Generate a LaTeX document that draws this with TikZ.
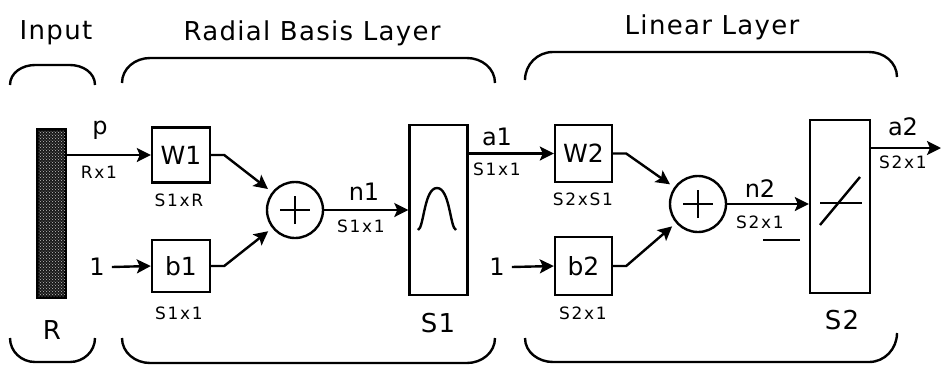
\documentclass[tikz,border=0pt]{standalone}
\usepackage{fontspec}
\setmainfont{DejaVu Sans}
\newfontfamily\titlefont[LetterSpace=5]{DejaVu Sans}
\newfontfamily\smallfont[LetterSpace=10]{DejaVu Sans}
\usetikzlibrary{arrows.meta,patterns}
\begin{document}
\begin{tikzpicture}[x=1pt,y=-1pt,line width=2.4pt,
  box/.style={draw,minimum width=58pt,minimum height=55pt,inner sep=0pt,font=\fontsize{25}{27}\selectfont},
  tall/.style={draw,minimum width=58pt,minimum height=170pt,inner sep=0pt},
  sumc/.style={draw,circle,minimum size=56pt,inner sep=0pt},
  ttl/.style={font=\titlefont\fontsize{26}{28}\selectfont,inner sep=0pt},
  big/.style={font=\fontsize{24}{26}\selectfont,inner sep=0pt},
  dim/.style={font=\smallfont\fontsize{17}{18}\selectfont,inner sep=0pt},
  arr/.style={-{Stealth[length=14pt,width=14pt,inset=3pt]}},
  brk/.style={line width=2.4pt}
]
\useasboundingbox (0,0) rectangle (942,365);

% titles
\node[ttl] (tIn) at (56,33) {Input};
\node[ttl] (tRB) at (312,33) {Radial Basis Layer};
\node[ttl] (tLin) at (712,27) {Linear Layer};

% brackets
\draw[brk] (10,85) to[out=90,in=180] (35,65) -- (70,65) to[out=0,in=90] (95,85);
\draw[brk] (10,338) to[out=-90,in=180] (35,362) -- (70,362) to[out=0,in=-90] (95,338);
\draw[brk] (122,83) to[out=90,in=180] (150,58) -- (467,58) to[out=0,in=90] (495,83);
\draw[brk] (122,338) to[out=-90,in=180] (150,363) -- (467,363) to[out=0,in=-90] (495,338);
\draw[brk] (525,80) to[out=90,in=180] (553,52) -- (869,52) to[out=0,in=90] (897,77);
\draw[brk] (525,338) to[out=-90,in=180] (553,362) -- (869,362) to[out=0,in=-90] (897,333);

% input bar
\node[draw,fill=black!90,minimum width=27pt,minimum height=167pt,inner sep=0pt] (inp) at (51.5,213.5) {};
\fill[pattern=crosshatch dots,pattern color=white!75!black] (inp.north west) rectangle (inp.south east);
\draw (inp.north west) rectangle (inp.south east);
\node[ttl] (lR) at (52,330) {R};

% first layer
\node[box] (W1) at (181,155) {W1};
\node[box,minimum height=52pt] (b1) at (181,266) {b1};
\node[dim] (dW1) at (179,200) {S1xR};
\node[dim] (db1) at (179,313) {S1x1};
\node[big] (one1) at (97,267) {1};
\node[big] (lp) at (100,130) {p};
\node[dim] (dp) at (99,172) {Rx1};
\draw[arr] (inp.east |- W1.west) -- (W1.west);
\draw[arr] (one1.east) ++(6,0) -- (b1.west);
\node[sumc] (sum1) at (295,210) {};
\draw[line width=1.8pt] ([xshift=-15pt]sum1.center) -- ([xshift=15pt]sum1.center);
\draw[line width=1.8pt] ([yshift=-14pt]sum1.center) -- ([yshift=14pt]sum1.center);
\draw[arr,shorten >=5pt] (W1.east) -- ++(13,0) -- (sum1);
\draw[arr,shorten >=5pt] (b1.east) -- ++(13,0) -- (sum1);
\node[tall] (S1b) at (438.5,210) {};
\draw (418,230) .. controls (424,228) and (424,188) .. (437,188) .. controls (450,188) and (450,228) .. (456,230);
\node[ttl] (lS1) at (438,323) {S1};
\draw[arr] (sum1.east) -- (sum1.east -| S1b.west);
\node[big] (ln1) at (364,192) {n1};
\node[dim] (dn1) at (361,226) {S1x1};

% second layer
\node[big] (la1) at (497,137) {a1};
\node[dim] (da1) at (497,169) {S1x1};
\node[box,minimum width=57pt,minimum height=57pt] (W2) at (583.5,153.5) {W2};
\node[box,minimum width=57pt,minimum height=58pt] (b2) at (583.5,266) {b2};
\node[dim] (dW2) at (583,199) {S2xS1};
\node[dim] (db2) at (583,313) {S2x1};
\node[big] (one2) at (497,267) {1};
\draw[arr] (S1b.east |- W2.west) -- (W2.west);
\draw[arr] (one2.east) ++(6,0) -- (b2.west);
\node[sumc] (sum2) at (698,204) {};
\draw[line width=1.8pt] ([xshift=-15pt]sum2.center) -- ([xshift=15pt]sum2.center);
\draw[line width=1.8pt] ([yshift=-14pt]sum2.center) -- ([yshift=14pt]sum2.center);
\draw[arr,shorten >=5pt] (W2.east) -- ++(13,0) -- (sum2);
\draw[arr,shorten >=5pt] (b2.east) -- ++(13,0) -- (sum2);
\node[tall,minimum width=60pt,minimum height=173pt] (S2b) at (840,206.5) {};
\draw (820,225) -- (860,177);
\draw[line width=1.4pt] (820,203) -- (862,203);
\node[ttl] (lS2) at (842,320) {S2};
\draw[arr] (sum2.east) -- (sum2.east -| S2b.west);
\node[big] (ln2) at (760,189) {n2};
\node[dim] (dn2) at (760,222) {S2x1};
\draw (763,240) -- (800,240);
\coordinate (a2end) at (941,148);
\draw[arr] (S2b.east |- a2end) -- (a2end);
\node[big] (la2) at (903,127) {a2};
\node[dim] (da2) at (903,162) {S2x1};
\end{tikzpicture}
\end{document}
